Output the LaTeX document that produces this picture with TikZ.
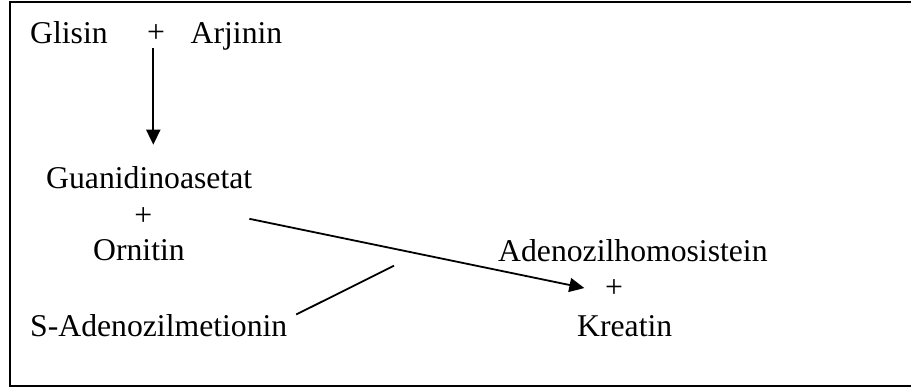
\documentclass[tikz,border=0pt]{standalone}
\usepackage{fontspec}
\usepackage{tikz}
\usetikzlibrary{arrows.meta}
\usetikzlibrary{positioning}
\setmainfont{Liberation Serif}

\begin{document}
\begin{tikzpicture}[x=1pt, y=-1pt,
    chem/.style={anchor=base west, inner sep=0pt, font=\fontsize{31.7}{38}\selectfont},
    plus/.style={chem, anchor=base},
    rxn/.style={line width=1.8pt, -{Triangle[length=15pt,width=14pt]}}]
    \useasboundingbox (0,0) rectangle (911,389);
    % Outer frame, its right side runs off the page
    \draw[line width=2.2pt] (920,1.8) -- (10,1.8) -- (10,385.8) -- (920,385.8);
    % Compound names
    \foreach \name/\x/\y/\txt in {
        gly/30/43/Glisin,
        arg/190.5/43/Arjinin,
        guan/46/188.3/Guanidinoasetat,
        orn/93/260/Ornitin,
        sam/30/336.7/S-Adenozilmetionin,
        sah/498/261.7/Adenozilhomosistein,
        kre/577/336.7/Kreatin
    } {
        \node[chem] (\name) at (\x, \y) {\txt};
    }
    % Plus signs
    \node[plus] (plusA) at (156, 42) {+};
    \node[plus] (plusB) at (143.3, 225) {+};
    \node[plus] (plusC) at (614, 297) {+};
    % Reactions
    \coordinate (join) at (394, 265.7);
    \draw[rxn, shorten <=6pt, shorten >=21.4pt] ([xshift=-2.7pt]plusA.south) -- ([xshift=-2.7pt]plusA.south |- guan.north);
    \draw[rxn] ([xshift=-3pt, yshift=-30pt]guan.south east) -- ([xshift=-20.5pt]plusC.west);
    \draw[line width=1.8pt] ([xshift=8.7pt]sam.north east) -- (join);
\end{tikzpicture}
\end{document}
